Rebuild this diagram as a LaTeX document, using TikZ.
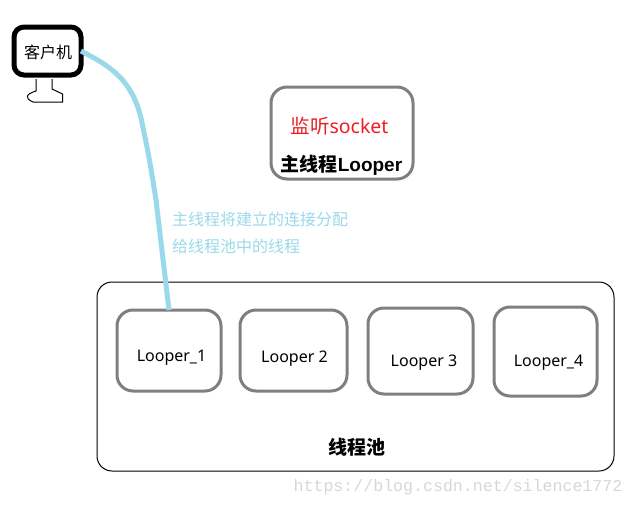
\documentclass[tikz,border=0pt]{standalone}
\usepackage{fontspec}
\setmainfont{Noto Sans}
\setmonofont{Liberation Mono}
\newfontfamily\cjk{Noto Sans CJK SC}
\newfontfamily\latinbold{Liberation Sans}
\usetikzlibrary{positioning}

\definecolor{boxgray}{RGB}{127,127,127}
\definecolor{linkblue}{RGB}{153,217,234}
\definecolor{listenred}{RGB}{237,28,36}
\definecolor{markgray}{RGB}{215,215,210}

\begin{document}
\begin{tikzpicture}[x=1pt, y=-1pt, outer sep=0pt,
    client/.style={draw, line width=5pt, rounded corners=10pt, minimum width=67pt, minimum height=48pt},
    loop box/.style={draw=boxgray, line width=3pt, rounded corners=16pt},
    pool/.style={draw, line width=1pt, rounded corners=15pt, minimum width=517pt, minimum height=189pt},
    looper text/.style={font=\fontsize{16}{16}\selectfont},
    title text/.style={font=\fontsize{19}{19}\selectfont\bfseries}]
    \useasboundingbox (0,0) rectangle (635,506);

    \node [pool] (P) at (355.5,376.5) {};
    \node [client] (C) at (47.5,51) {};
    \node [loop box, minimum width=142pt, minimum height=92pt] (M) at (342,133) {};
    \node [loop box, minimum width=104pt, minimum height=81pt] (L1) at (169,350.5) {};
    \node [loop box, minimum width=107pt, minimum height=81pt] (L2) at (293.5,350.5) {};
    \node [loop box, minimum width=105pt, minimum height=86pt] (L3) at (420.5,351) {};
    \node [loop box, minimum width=103pt, minimum height=89pt] (L4) at (545.5,351.5) {};

    \node [font=\fontsize{16}{16}\selectfont\cjk] (Ctext) at (48,52) {客户机};
    \node [text=listenred, font=\fontsize{19.5}{19.5}\selectfont] (Mtext) at (339.5,126) {{\cjk 监听}socket};
    \node [title text] (Mtitle) at (341.5,165.5) {{\cjk 主线程}{\latinbold Looper}};
    \node [looper text] (L1text) at (171.5,357.5) {Looper\_1};
    \node [looper text] (L2text) at (294.5,358.5) {Looper 2};
    \node [looper text] (L3text) at (424,362.5) {Looper 3};
    \node [looper text] (L4text) at (548.5,362.5) {Looper\_4};
    \node [title text, font=\fontsize{19}{19}\selectfont\bfseries\cjk] (Ptitle) at (356.5,447) {线程池};
    \node [text=linkblue, align=left, anchor=north west, inner sep=0pt,
           font=\fontsize{16}{27}\selectfont\cjk] (Ltext) at (172,212) {主线程将建立的连接分配\\给线程池中的线程};
    \node [text=markgray, font=\fontsize{16.6}{16.6}\selectfont\ttfamily] (W) at (458,487) {https://blog.csdn.net/silence1772};

    % stand under the client
    \draw [line width=1pt] (36,79) -- (36,91) .. controls (26,94) and (24,98) .. (33,102) -- (62.5,102) -- (62.5,94) -- (52,89) -- (52,79);

    \draw [linkblue, line width=5pt] (C.east) .. controls (110,66) and (135,80) .. (143,128)
        .. controls (149,155) and (152,175) .. (156,200) -- (L1.north);
\end{tikzpicture}
\end{document}
